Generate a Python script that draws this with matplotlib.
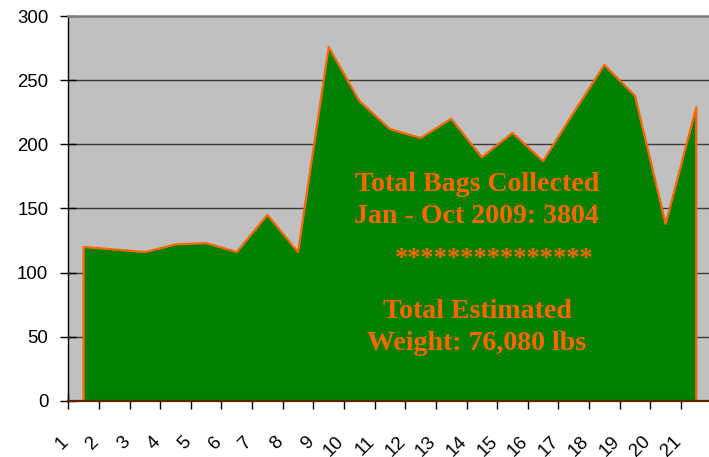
import numpy as np
import matplotlib
matplotlib.use("Agg")
import matplotlib.pyplot as plt
import matplotlib.transforms as mtransforms

# bags collected per outing
outings = list(range(1, 22))
bags = [120, 118, 116, 122, 123, 116, 145, 116, 276, 234, 212,
        205, 220, 190, 209, 187, 225, 262, 238, 138, 229]
tick_labels = [str(i) for i in outings]
yticks = [0, 50, 100, 150, 200, 250, 300]

W, H = 709, 457
fig = plt.figure(figsize=(W / 100, H / 100), dpi=100)
fig.patch.set_facecolor('white')

# axes placed in pixels; right edge runs past the image like the original crop
x0, x1 = 68.3, 711.6
ytop, ybot = 16.3, 400.7
ax = fig.add_axes([x0 / W, (H - ybot) / H, (x1 - x0) / W, (ybot - ytop) / H])
ax.set_facecolor('#c0c0c0')

x = np.array(outings)
y = np.array(bags)
ax.fill_between(x, 0, y, color='#008000', zorder=2, lw=0)
ax.plot(np.r_[x[0], x, x[-1]], np.r_[0, y, 0], color='#ff6600', lw=1.6, zorder=3)

ax.set_xlim(0.5, 21.5)
ax.set_ylim(0, 300)

ax.set_yticks(yticks)
ax.yaxis.grid(True, color='#3a3a3a', lw=1.0)
ax.set_axisbelow(True)
ax.tick_params(axis='y', direction='inout', length=11.5, width=1, color='black',
               labelsize=13.4, pad=8.6)
for lab in ax.get_yticklabels():
    lab.set_fontfamily('Liberation Sans')

# tick marks between categories, labels drawn separately
ax.set_xticks(np.arange(0.5, 21.0, 1.0))
ax.set_xticklabels([])
ax.tick_params(axis='x', direction='inout', length=11, width=1, color='black')

trans = mtransforms.blended_transform_factory(ax.transData, fig.transFigure)
for i, lab in zip(outings, tick_labels):
    ax.text(i - 0.38, (H - 433) / H, lab, transform=trans, rotation=45,
            ha='right', va='top', fontsize=13.6, family='Liberation Sans',
            clip_on=False)

ax.spines['right'].set_visible(False)
ax.spines['top'].set_color('#808080')
ax.spines['top'].set_linewidth(1.8)
ax.spines['left'].set_color('black')
ax.spines['left'].set_linewidth(1.0)
ax.spines['bottom'].set_color('#5a2400')
ax.spines['bottom'].set_linewidth(1.6)
ax.spines['bottom'].set_zorder(4)

# annotation text
orange = '#ff6600'
notes = [
    ("Total Bags Collected", 476.7, 190.7),
    ("Jan - Oct 2009: 3804", 476.7, 222.7),
    ("Total Estimated", 477.0, 318.3),
    ("Weight: 76,080 lbs", 476.7, 350.0),
]
for txt, px, py in notes:
    fig.text(px / W, (H - py) / H, txt, ha='center', va='baseline',
             family='Liberation Serif', weight='bold', fontsize=20.1, color=orange)
fig.text(494 / W, (H - 258.3) / H, '*' * 15, ha='center', va='center',
         family='Liberation Serif', weight='bold', fontsize=19, color=orange)

fig.savefig('out.png', dpi=100)
